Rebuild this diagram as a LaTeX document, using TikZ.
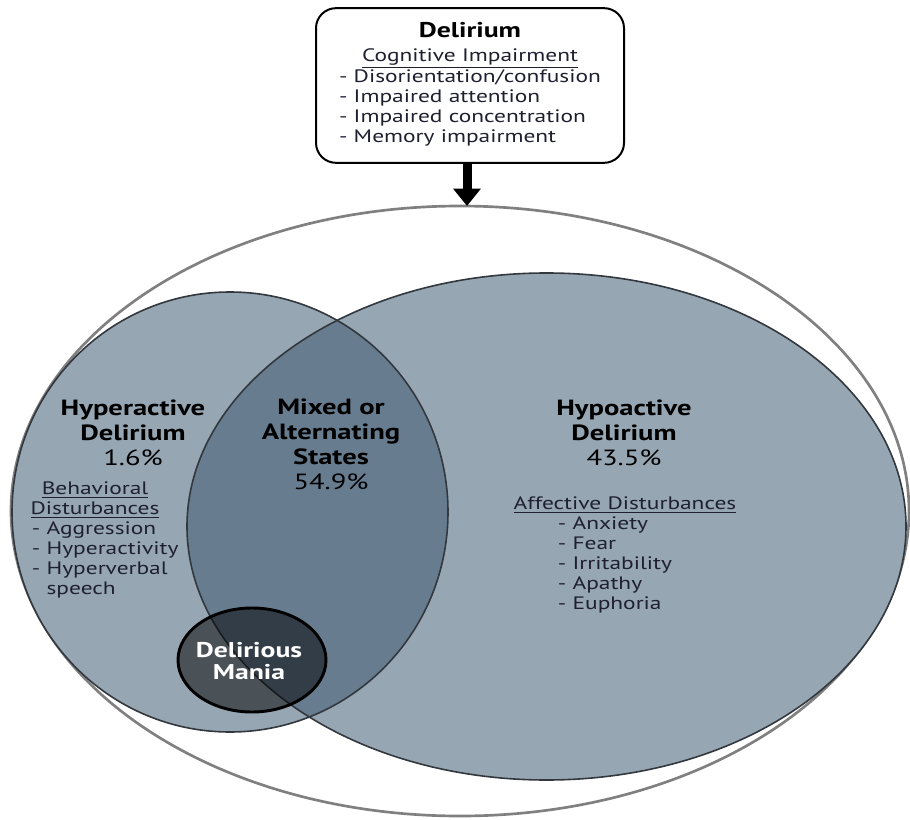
\documentclass[tikz,border=0pt]{standalone}
\usepackage{fontspec}
\setmainfont{PT Sans}[FakeStretch=1.3]
\usetikzlibrary{arrows.meta}

\tikzset{every picture/.style={line width=0.75pt}}
\tikzset{
  setfill/.style={fill={rgb, 255:red, 150; green, 166; blue, 178 }},
  mixfill/.style={fill={rgb, 255:red, 103; green, 124; blue, 143 }},
  setline/.style={draw={rgb, 255:red, 50; green, 56; blue, 62 }, line width=1.2pt},
  heading/.style={font=\fontsize{16.5}{18.75}\selectfont\bfseries, align=center, text=black},
  listtext/.style={font=\fontsize{13.5}{15}\selectfont, align=left, text={rgb, 255:red, 30; green, 32; blue, 48 }},
  cogbox/.style={draw=black, line width=1.5pt, rounded corners=15pt, fill=white, minimum width=231pt, minimum height=116pt, inner sep=0pt, align=center, font=\fontsize{13.5}{15}\selectfont, text={rgb, 255:red, 30; green, 32; blue, 48 }},
  maniaring/.style={draw=black, line width=2.2pt, fill=black, fill opacity=0.5},
  maniatext/.style={text=white, align=center, font=\fontsize{16}{17}\selectfont\bfseries},
  downarrow/.style={line width=6.75pt, -{Triangle[width=20pt,length=13pt]}}
}

\begin{document}
\begin{tikzpicture}[x=0.75pt,y=0.75pt,yscale=-1,xscale=1]
\useasboundingbox (0,0) rectangle (910,820);

%Shape: Ellipse [id:outer] 
\draw [color={rgb, 255:red, 128; green, 128; blue, 128 }, line width=2pt] (460,511) ellipse [x radius=449, y radius=305];
\coordinate (outertop) at (467,206);

%Shape: Ellipse [id:hyperactive] 
\fill [setfill] (230,512) ellipse [x radius=218, y radius=220];
%Shape: Ellipse [id:hypoactive] 
\fill [setfill] (546.5,526.5) ellipse [x radius=359.5, y radius=253.5];
%Shape: Overlap [id:mixed] 
\begin{scope}
  \clip (230,512) ellipse [x radius=218, y radius=220];
  \fill [mixfill] (546.5,526.5) ellipse [x radius=359.5, y radius=253.5];
\end{scope}
\draw [setline] (230,512) ellipse [x radius=218, y radius=220];
\draw [setline] (546.5,526.5) ellipse [x radius=359.5, y radius=253.5];

%Shape: Ellipse [id:mania] 
\draw [maniaring] (252,660) ellipse [x radius=74, y radius=52];
\node [maniatext] (mania) at (249,661) {Delirious\\Mania};

%Top box
\node [cogbox] (cog) at (470,85.5) {{\fontsize{16}{18}\selectfont\bfseries\color{black} Delirium}\\[3pt]
  \underline{Cognitive Impairment}\\
  \begin{tabular}[t]{@{}l@{}}- Disorientation/confusion\\- Impaired attention\\- Impaired concentration\\- Memory impairment\end{tabular}};
%Straight Lines [id:arrow] 
\draw [downarrow] (cog.south -| outertop) -- (outertop);

%Texts
\node [heading] (hyper) at (133,433) {Hyperactive\\Delirium\\{\mdseries 1.6\%}};
\node [heading] (mixed) at (331,444) {Mixed or\\Alternating\\States\\{\mdseries 54.9\%}};
\node [heading] (hypo) at (624,433) {Hypoactive\\Delirium\\{\mdseries 43.5\%}};

\node [listtext, align=center] (behav) at (95,500) {\underline{Behavioral}\\\underline{Disturbances}};
\node [listtext, anchor=west] (behavlist) at (27,560) {- Aggression\\- Hyperactivity\\- Hyperverbal\\\phantom{- }speech};

\node [listtext] (affect) at (625,505) {\underline{Affective Disturbances}};
\node [listtext, anchor=west] (affectlist) at (553,565) {- Anxiety\\- Fear\\- Irritability\\- Apathy\\- Euphoria};

\end{tikzpicture}
\end{document}
